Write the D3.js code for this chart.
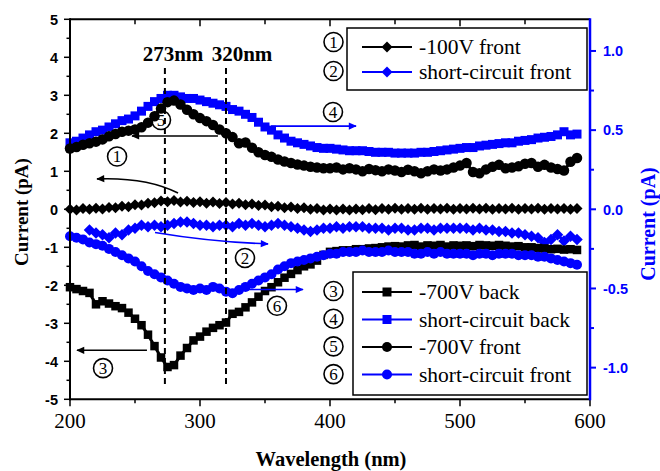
<!DOCTYPE html>
<html><head><meta charset="utf-8">
<script src="https://cdn.jsdelivr.net/npm/d3@7"></script>
<style>
body{margin:0;background:#fff}svg{display:block}
.serif{font-family:"Liberation Serif","Times New Roman",Times,"DejaVu Serif",serif}
.sans{font-family:"Liberation Sans",Arial,Helvetica,"DejaVu Sans",sans-serif}
</style>
</head><body>
<svg id="chart" width="660" height="471"></svg>
<script>
// ---------------- DATA ----------------
const wavelengths = [200,205,210,215,220,225,230,235,240,245,250,255,260,265,270,275,280,285,290,295,
  300,305,310,315,320,325,330,335,340,345,350,355,360,365,370,375,380,385,390,395,
  400,405,410,415,420,425,430,435,440,445,450,455,460,465,470,475,480,485,490,495,
  500,505,510,515,520,525,530,535,540,545,550,555,560,565,570,575,580,585,590];

// (1) -100V front, left axis
const v100Front = [0.00,-0.02,0.02,0.00,0.03,0.01,0.05,0.04,0.08,0.07,0.12,0.11,0.16,0.17,0.22,0.20,0.23,0.19,0.21,0.18,
  0.20,0.16,0.19,0.15,0.18,0.14,0.16,0.12,0.14,0.10,0.11,0.07,0.08,0.04,0.06,0.02,0.04,0.00,0.02,-0.02,
  0.01,-0.02,0.01,-0.02,0.01,-0.01,0.02,-0.01,0.02,0.00,0.03,0.00,0.02,0.00,0.03,0.00,0.02,0.01,0.03,0.00,
  0.02,0.01,0.03,0.01,0.03,0.00,0.02,0.01,0.03,0.00,0.02,0.01,0.03,0.00,0.02,0.01,0.02,0.00,0.02];

// (2) short-circuit front (diamonds), right axis
const scFrontDiamond = [null,null,null,-0.13,-0.15,-0.16,-0.18,-0.15,-0.16,-0.13,-0.12,-0.10,-0.11,-0.10,-0.11,-0.10,-0.09,-0.08,-0.08,-0.09,
  -0.10,-0.10,-0.11,-0.10,-0.10,-0.11,-0.09,-0.10,-0.09,-0.10,-0.11,-0.10,-0.09,-0.10,-0.11,-0.12,-0.13,-0.14,-0.13,-0.12,
  -0.12,-0.11,-0.12,-0.11,-0.11,-0.11,-0.12,-0.12,-0.12,-0.13,-0.12,-0.12,-0.13,-0.13,-0.12,-0.12,-0.13,-0.12,-0.12,-0.12,
  -0.12,-0.12,-0.13,-0.12,-0.13,-0.13,-0.14,-0.14,-0.15,-0.15,-0.16,-0.17,-0.18,-0.21,-0.19,-0.16,-0.20,-0.17,-0.19];

// (3) -700V back, left axis
const v700Back = [-2.05,-2.10,-2.15,-2.20,-2.50,-2.42,-2.48,-2.55,-2.60,-2.72,-2.88,-3.05,-3.30,-3.60,-3.90,-4.15,-4.10,-3.85,-3.65,-3.45,
  -3.35,-3.22,-3.12,-3.05,-2.98,-2.75,-2.70,-2.58,-2.45,-2.30,-2.15,-2.05,-1.92,-1.80,-1.70,-1.60,-1.50,-1.45,-1.35,-1.20,
  -1.12,-1.10,-1.08,-1.08,-1.05,-1.05,-1.03,-1.02,-1.00,-0.98,-0.97,-0.98,-0.95,-0.94,-0.98,-0.95,-0.96,-0.94,-0.98,-0.95,
  -0.96,-0.95,-0.97,-0.94,-0.95,-0.96,-0.94,-0.96,-0.98,-0.97,-1.00,-1.00,-1.02,-1.03,-1.05,-1.04,-1.06,-1.05,-1.07];

// (4) short-circuit back, right axis
const scBack = [0.42,0.43,0.45,0.47,0.49,0.50,0.52,0.54,0.56,0.57,0.59,0.62,0.65,0.68,0.70,0.72,0.72,0.71,0.70,0.70,
  0.69,0.68,0.67,0.66,0.65,0.63,0.62,0.60,0.58,0.55,0.52,0.50,0.47,0.45,0.43,0.42,0.41,0.40,0.39,0.385,
  0.385,0.38,0.375,0.37,0.37,0.37,0.365,0.36,0.36,0.36,0.355,0.355,0.355,0.355,0.36,0.36,0.365,0.37,0.375,0.38,
  0.385,0.39,0.39,0.40,0.405,0.41,0.415,0.42,0.42,0.43,0.435,0.44,0.45,0.455,0.46,0.47,0.49,0.47,0.475];

// (5) -700V front, left axis
const v700Front = [1.60,1.64,1.70,1.74,1.78,1.84,1.92,1.98,2.04,2.07,2.10,2.16,2.28,2.45,2.65,2.82,2.86,2.76,2.62,2.50,
  2.40,2.32,2.22,2.10,2.00,1.90,1.74,1.76,1.62,1.50,1.43,1.38,1.31,1.26,1.22,1.18,1.15,1.12,1.10,1.08,
  1.08,1.10,1.05,1.08,1.05,1.00,1.06,1.03,1.00,1.05,1.02,0.98,1.04,1.00,0.95,1.00,1.05,1.02,1.05,1.10,
  1.15,1.22,0.98,0.95,1.05,1.12,1.17,1.08,1.10,1.13,1.20,1.22,1.12,1.17,1.10,1.06,1.02,1.25,1.35];

// (6) short-circuit front (circles), right axis
const scFrontCircle = [-0.17,-0.18,-0.19,-0.21,-0.22,-0.23,-0.25,-0.27,-0.29,-0.31,-0.33,-0.36,-0.39,-0.41,-0.43,-0.45,-0.47,-0.49,-0.50,-0.51,
  -0.50,-0.51,-0.49,-0.50,-0.52,-0.53,-0.51,-0.49,-0.47,-0.45,-0.43,-0.41,-0.38,-0.36,-0.34,-0.33,-0.32,-0.31,-0.30,-0.29,
  -0.28,-0.28,-0.27,-0.27,-0.27,-0.26,-0.27,-0.27,-0.27,-0.26,-0.27,-0.27,-0.27,-0.28,-0.28,-0.27,-0.28,-0.27,-0.28,-0.28,
  -0.28,-0.28,-0.29,-0.28,-0.28,-0.29,-0.28,-0.28,-0.28,-0.29,-0.29,-0.29,-0.30,-0.30,-0.31,-0.32,-0.33,-0.34,-0.35];

const xTicks = [200,300,400,500,600];
const xMinor = [250,350,450,550];
const yLeftTicks = [-5,-4,-3,-2,-1,0,1,2,3,4,5];
const yLeftMinor = [-4.5,-3.5,-2.5,-1.5,-0.5,0.5,1.5,2.5,3.5,4.5];
const yRightTicks = [-1.0,-0.5,0.0,0.5,1.0];
const yRightMinor = [-0.75,-0.25,0.25,0.75];
const peakLines = [273,320];
const peakLabels = ["273nm","320nm"];

const legendTop = [
  {num:"1", label:"-100V front", color:"#000", sym:"diamond"},
  {num:"2", label:"short-circuit front", color:"#0000ff", sym:"diamond"}
];
const legendBottom = [
  {num:"3", label:"-700V back", color:"#000", sym:"square"},
  {num:"4", label:"short-circuit back", color:"#0000ff", sym:"square"},
  {num:"5", label:"-700V front", color:"#000", sym:"circle"},
  {num:"6", label:"short-circuit front", color:"#0000ff", sym:"circle"}
];

// ---------------- SETUP ----------------
const BLUE = "#0000ff";
const svg = d3.select("#chart");
const L = 70, R = 590, T = 19.3, B = 399.3;
const x = d3.scaleLinear().domain([200,600]).range([L,R]);
const yL = d3.scaleLinear().domain([-5,5]).range([B,T]);
const yR = d3.scaleLinear().domain([-1.2,1.2]).range([B,T]);

const defs = svg.append("defs");
[["arrK","#000"],["arrB",BLUE]].forEach(([id,c])=>{
  defs.append("marker").attr("id",id).attr("viewBox","0 0 10 10")
    .attr("refX",9).attr("refY",5).attr("markerWidth",10).attr("markerHeight",8)
    .attr("markerUnits","userSpaceOnUse").attr("orient","auto")
    .append("path").attr("d","M0,0.5 L10,5 L0,9.5 Z").attr("fill",c);
});

function symPath(type, size){
  if(type==="diamond"){ const h=size/2+1; return `M0,${-h}L${h},0L0,${h}L${-h},0Z`; }
  if(type==="square"){ const h=size/2; return `M${-h},${-h}H${h}V${h}H${-h}Z`; }
  return d3.symbol().type(d3.symbolCircle).size(Math.PI*(size/2)*(size/2))();
}

// ---------------- SERIES ----------------
const series = [
  {vals:v100Front, y:yL, color:"#000", sym:"diamond", size:9},
  {vals:scFrontDiamond, y:yR, color:BLUE, sym:"diamond", size:9.5},
  {vals:v700Back, y:yL, color:"#000", sym:"square", size:8.5},
  {vals:scBack, y:yR, color:BLUE, sym:"square", size:9},
  {vals:v700Front, y:yL, color:"#000", sym:"circle", size:10.5},
  {vals:scFrontCircle, y:yR, color:BLUE, sym:"circle", size:10}
];
const plot = svg.append("g");
series.forEach(s=>{
  const pts = wavelengths.map((w,i)=>({w, v:s.vals[i]})).filter(p=>p.v!==null);
  const line = d3.line().x(p=>x(p.w)).y(p=>s.y(p.v));
  plot.append("path").attr("d",line(pts)).attr("fill","none").attr("stroke",s.color).attr("stroke-width",3);
  const p = symPath(s.sym, s.size);
  plot.append("g").selectAll("path").data(pts).join("path")
    .attr("d",p).attr("transform",d=>`translate(${x(d.w)},${s.y(d.v)})`).attr("fill",s.color);
});

// ---------------- DASHED PEAK LINES ----------------
svg.append("g").selectAll("line").data(peakLines).join("line")
  .attr("x1",d=>x(d)).attr("x2",d=>x(d)).attr("y1",68).attr("y2",386)
  .attr("stroke","#000").attr("stroke-width",2).attr("stroke-dasharray","6,4");
svg.append("g").selectAll("text").data(peakLabels).join("text").attr("class","serif")
  .attr("x",(d,i)=>i===0?173:242).attr("y",61).attr("text-anchor","middle")
  .attr("font-weight","bold").attr("font-size",21).text(d=>d);

// ---------------- AXES ----------------
svg.append("line").attr("x1",L).attr("x2",R).attr("y1",T).attr("y2",T).attr("stroke","#000").attr("stroke-width",2);
svg.append("g").selectAll("line").data(xTicks.concat(xMinor)).join("line")
  .attr("x1",d=>x(d)).attr("x2",d=>x(d)).attr("y1",T).attr("y2",d=>T+(d%100===0?7:5))
  .attr("stroke","#000").attr("stroke-width",1.5);

const gx = svg.append("g");
gx.append("line").attr("x1",L-1).attr("x2",R).attr("y1",B).attr("y2",B).attr("stroke","#000").attr("stroke-width",2);
gx.selectAll("line.maj").data(xTicks).join("line").attr("class","maj")
  .attr("x1",d=>x(d)).attr("x2",d=>x(d)).attr("y1",B).attr("y2",B+7).attr("stroke","#000").attr("stroke-width",1.5);
gx.selectAll("line.min").data(xMinor).join("line").attr("class","min")
  .attr("x1",d=>x(d)).attr("x2",d=>x(d)).attr("y1",B).attr("y2",B+4).attr("stroke","#000").attr("stroke-width",1.5);
gx.selectAll("text").data(xTicks).join("text").attr("class","serif")
  .attr("x",d=>x(d)).attr("y",428).attr("text-anchor","middle")
  .attr("font-size",21).text(d=>String(d));
svg.append("text").attr("class","serif").attr("x",331).attr("y",466).attr("text-anchor","middle")
  .attr("font-weight","bold").attr("font-size",20.5).text("Wavelength (nm)");

const gl = svg.append("g");
gl.append("line").attr("x1",L).attr("x2",L).attr("y1",T-1).attr("y2",B+1).attr("stroke","#000").attr("stroke-width",2);
gl.selectAll("line.maj").data(yLeftTicks).join("line").attr("class","maj")
  .attr("x1",L-6).attr("x2",L).attr("y1",d=>yL(d)).attr("y2",d=>yL(d)).attr("stroke","#000").attr("stroke-width",1.5);
gl.selectAll("line.min").data(yLeftMinor).join("line").attr("class","min")
  .attr("x1",L-3.5).attr("x2",L).attr("y1",d=>yL(d)).attr("y2",d=>yL(d)).attr("stroke","#000").attr("stroke-width",1.5);
gl.selectAll("text").data(yLeftTicks).join("text").attr("class","sans")
  .attr("x",58).attr("y",d=>yL(d)).attr("dy","0.36em").attr("text-anchor","end")
  .attr("font-weight","bold").attr("font-size",14.5).text(d=>String(d));
svg.append("text").attr("class","serif").attr("transform","translate(28,212) rotate(-90)").attr("text-anchor","middle")
  .attr("font-weight","bold").attr("font-size",19).text("Current (pA)");

const gr = svg.append("g");
gr.append("line").attr("x1",R).attr("x2",R).attr("y1",T-1).attr("y2",B+1).attr("stroke",BLUE).attr("stroke-width",2.5);
gr.selectAll("line.maj").data(yRightTicks).join("line").attr("class","maj")
  .attr("x1",R).attr("x2",R+6).attr("y1",d=>yR(d)).attr("y2",d=>yR(d)).attr("stroke",BLUE).attr("stroke-width",2);
gr.selectAll("line.min").data(yRightMinor).join("line").attr("class","min")
  .attr("x1",R).attr("x2",R+4).attr("y1",d=>yR(d)).attr("y2",d=>yR(d)).attr("stroke",BLUE).attr("stroke-width",2);
gr.selectAll("text").data(yRightTicks).join("text").attr("class","sans")
  .attr("x",603).attr("y",d=>yR(d)).attr("dy","0.36em").attr("text-anchor","start").attr("fill",BLUE)
  .attr("font-weight","bold").attr("font-size",14.5)
  .text(d=>(d<0?"-":"")+Math.abs(d).toFixed(1));
svg.append("text").attr("class","serif").attr("transform","translate(655,224) rotate(-90)").attr("text-anchor","middle").attr("fill",BLUE)
  .attr("font-weight","bold").attr("font-size",20).text("Current (pA)");

// ---------------- ANNOTATIONS ----------------
function circled(cx, cy, digit){
  svg.append("circle").attr("cx",cx).attr("cy",cy).attr("r",9.5).attr("fill","none")
    .attr("stroke","#000").attr("stroke-width",1.6);
  svg.append("text").attr("class","serif").attr("x",cx).attr("y",cy).attr("dy","0.35em").attr("text-anchor","middle")
    .attr("font-size",17).text(digit);
}
function arrow(d, color){
  svg.append("path").attr("d",d).attr("fill","none").attr("stroke",color).attr("stroke-width",1.6)
    .attr("marker-end",`url(#${color==="#000"?"arrK":"arrB"})`);
}
const P = (w,v)=>`${x(w)},${yL(v)}`;
arrow(`M${P(313.8,1.93)}L${P(247.7,1.93)}`, "#000");
arrow(`M${P(283.1,0.43)}Q${P(258.5,0.85)} ${P(220.8,0.80)}`, "#000");
arrow(`M${P(354.6,2.19)}L${P(420,2.19)}`, BLUE);
arrow(`M${P(265.4,-0.61)}Q${P(309.2,-0.86)} ${P(352.3,-0.91)}`, BLUE);
arrow(`M${P(334.6,-2.11)}L${P(379.2,-2.11)}`, BLUE);
arrow(`M${P(259.2,-3.71)}L${P(205.4,-3.71)}`, "#000");

circled(x(270), yL(2.35), "5");
circled(x(236.2), yL(1.39), "1");
circled(x(402.3), yL(2.56), "4");
circled(x(334.6), yL(-1.28), "2");
circled(x(359.2), yL(-2.54), "6");
circled(x(225.4), yL(-4.18), "3");

// ---------------- LEGENDS ----------------
function legend(items, box, rowY0, rowStep, circleY0, circleStep){
  svg.append("rect").attr("x",box[0]).attr("y",box[1]).attr("width",box[2]).attr("height",box[3])
    .attr("fill","#fff").attr("stroke","#000").attr("stroke-width",1.5);
  items.forEach((it,i)=>{
    const yy = rowY0 + i*rowStep;
    svg.append("line").attr("x1",362).attr("x2",412).attr("y1",yy).attr("y2",yy)
      .attr("stroke",it.color).attr("stroke-width",1.8);
    svg.append("path").attr("d",symPath(it.sym, it.sym==="circle"?10:9)).attr("transform",`translate(387,${yy})`).attr("fill",it.color);
    svg.append("text").attr("class","serif").attr("x",419).attr("y",yy).attr("dy","0.33em")
      .attr("font-size",21.5).text(it.label);
    circled(333.5, circleY0 + i*circleStep, it.num);
  });
}
legend(legendTop, [347,28,240,62], 47, 25, 42, 29);
legend(legendBottom, [353,272,234,123], 292, 27.5, 291, 27.7);
</script>
</body></html>
